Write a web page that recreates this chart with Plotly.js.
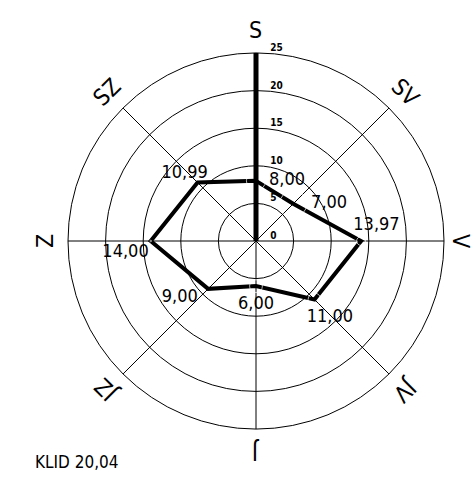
<!DOCTYPE html>
<html>
<head>
<meta charset="utf-8">
<script src="https://cdn.plot.ly/plotly-3.0.1.min.js"></script>
<style>html,body{margin:0;padding:0;background:#fff;}#chart{width:474px;height:501px;}</style>
</head>
<body>
<div id="chart"></div>
<script>
// Directions (Czech compass labels), clockwise from the top
const directions = ["S", "SV", "V", "JV", "J", "JZ", "Z", "SZ"];
// Wind frequency per direction (%)
const frequencies = [8.00, 7.00, 13.97, 11.00, 6.00, 9.00, 14.00, 10.99];
// Calm share
const calmLabel = "KLID";
const calmValue = 20.04;
// Radial ticks
const radialTicks = [0, 5, 10, 15, 20, 25];

// label placement (style only): position, offset (marker size), padding spaces before/after
const valuePositions = ["middle right", "middle right", "top center", "bottom center", "bottom center", "bottom left", "bottom left", "top center"];
const valueOffsets = [19.2, 27, 8.8, 12.8, 12.8, 0, 1.6, 0];
const padBefore = [0, 0, 6, 6, 0, 0, 0, 0];
const padAfter = [0, 0, 0, 0, 0, 2, 0, 5];

const NB = '\u00a0';
const fmt = v => v.toFixed(2).replace('.', ',');
const W = 474, H = 501;
const dom = {x: [68 / W, 444 / W], y: [1 - 429 / H, 1 - 53 / H]};
const cx = (dom.x[0] + dom.x[1]) / 2, cy = (dom.y[0] + dom.y[1]) / 2;

const thetaClosed = directions.concat([directions[0]]);
const rClosed = frequencies.concat([frequencies[0]]);

const traces = [
  {
    type: 'scatterpolar', mode: 'lines',
    r: rClosed, theta: thetaClosed,
    line: {color: '#000', width: 4},
    hoverinfo: 'skip', showlegend: false
  },
  {
    type: 'scatterpolar', mode: 'markers+text',
    r: frequencies, theta: directions,
    text: frequencies.map((v, i) => NB.repeat(padBefore[i]) + fmt(v) + NB.repeat(padAfter[i])),
    textposition: valuePositions,
    marker: {size: valueOffsets, color: 'rgba(0,0,0,0)'},
    textfont: {family: 'DejaVu Sans Condensed', size: 18, color: '#000'},
    hoverinfo: 'skip', showlegend: false, cliponaxis: false
  },
  {
    type: 'scatterpolar', mode: 'markers+text',
    r: radialTicks, theta: radialTicks.map(() => directions[0]),
    text: radialTicks.map(v => '<span style="font-size:10px">' + NB.repeat(3) + String(v) + '</span><br>' + NB),
    textposition: 'middle right',
    marker: {size: 0, color: 'rgba(0,0,0,0)'},
    textfont: {family: 'DejaVu Sans Condensed', size: 5, color: '#000', weight: 'bold'},
    hoverinfo: 'skip', showlegend: false, cliponaxis: false
  }
];

const labelRadius = [211, 211, 205, 211, 211, 211, 211, 211];
const annotations = directions.map((d, i) => {
  const ang = (90 - 45 * i) * Math.PI / 180;
  const rl = labelRadius[i];
  let ta = 45 * i; if (ta > 180) ta -= 360;
  return {
    xref: 'paper', yref: 'paper',
    x: cx + rl * Math.cos(ang) / W, y: cy + rl * Math.sin(ang) / H,
    xanchor: 'center', yanchor: 'middle',
    text: d, showarrow: false, textangle: ta,
    font: {family: 'DejaVu Sans Condensed', size: 23, color: '#000'}
  };
});
annotations.push({
  xref: 'paper', yref: 'paper', x: 33 / W, y: 1 - 462 / H,
  xanchor: 'left', yanchor: 'middle', showarrow: false,
  text: calmLabel + ' ' + fmt(calmValue),
  font: {family: 'DejaVu Sans Condensed', size: 17, color: '#000'}
});

const layout = {
  width: W, height: H,
  margin: {l: 0, r: 0, t: 0, b: 0},
  paper_bgcolor: '#fff', plot_bgcolor: '#fff',
  showlegend: false,
  polar: {
    domain: dom,
    bgcolor: '#fff',
    angularaxis: {
      type: 'category', categoryarray: directions,
      direction: 'clockwise', rotation: 90,
      showticklabels: false, ticks: '',
      showline: true, linecolor: '#000', linewidth: 1,
      showgrid: true, gridcolor: '#000', gridwidth: 1
    },
    radialaxis: {
      range: [0, 25], angle: 90,
      tickvals: radialTicks, showticklabels: false,
      ticks: '', showline: true, linecolor: '#000', linewidth: 5,
      showgrid: true, gridcolor: '#000', gridwidth: 1
    }
  },
  annotations: annotations
};

Plotly.newPlot('chart', traces, layout, {staticPlot: true, displayModeBar: false});
</script>
</body>
</html>
